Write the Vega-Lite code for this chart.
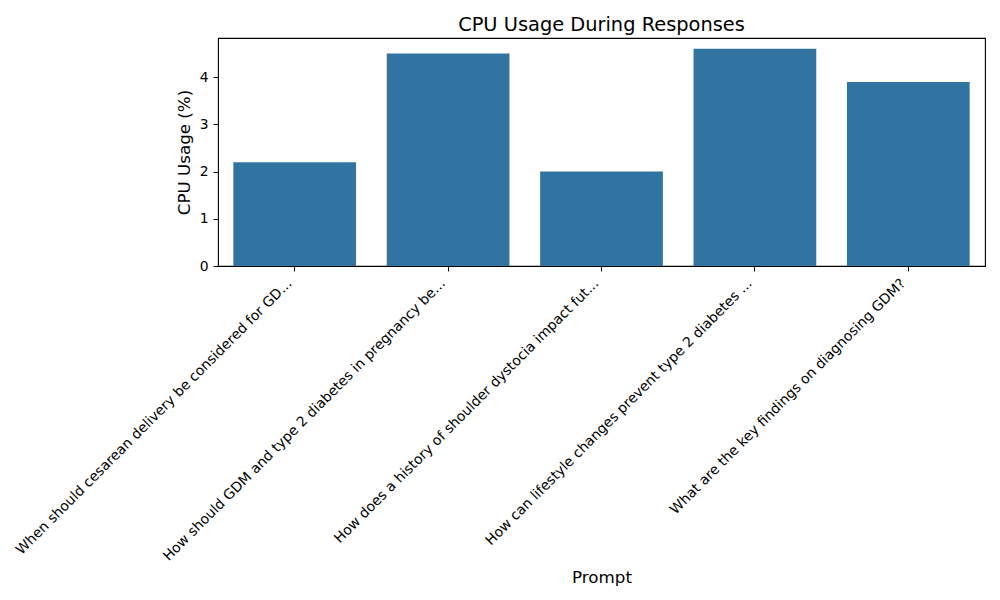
{
  "$schema": "https://vega.github.io/schema/vega-lite/v6.json",
  "autosize": {"type": "none"},
  "width": 767,
  "height": 228,
  "padding": {"left": 218, "top": 38, "right": 15, "bottom": 334},
  "background": "white",
  "title": {
    "text": "CPU Usage During Responses",
    "fontSize": 19.4,
    "font": "DejaVu Sans",
    "fontWeight": "normal",
    "color": "black",
    "anchor": "middle",
    "offset": 3
  },
  "data": {
    "values": [
      {"prompt": "When should cesarean delivery be considered for GD...", "cpu": 2.2},
      {"prompt": "How should GDM and type 2 diabetes in pregnancy be...", "cpu": 4.5},
      {"prompt": "How does a history of shoulder dystocia impact fut...", "cpu": 2.0},
      {"prompt": "How can lifestyle changes prevent type 2 diabetes ...", "cpu": 4.6},
      {"prompt": "What are the key findings on diagnosing GDM?", "cpu": 3.9}
    ]
  },
  "mark": {"type": "bar", "color": "#3274a1"},
  "encoding": {
    "x": {
      "field": "prompt",
      "type": "nominal",
      "sort": null,
      "scale": {"paddingInner": 0.2, "paddingOuter": 0.1},
      "axis": {
        "title": "Prompt",
        "titleFontSize": 16.7,
        "titleFont": "DejaVu Sans",
        "titleFontWeight": "normal",
        "titleColor": "black",
        "titleY": 316,
        "titleBaseline": "alphabetic",
        "labelAngle": -45,
        "labelAlign": "right",
        "labelBaseline": "middle",
        "labelOffset": -5,
        "labelPadding": 10,
        "labelFontSize": 13.9,
        "labelFont": "DejaVu Sans",
        "labelColor": "black",
        "labelLimit": 0,
        "labelOverlap": false,
        "tickSize": 4.9,
        "tickColor": "black",
        "tickWidth": 1,
        "domain": false,
        "grid": false
      }
    },
    "y": {
      "field": "cpu",
      "type": "quantitative",
      "scale": {"domain": [0, 4.83], "nice": false, "zero": true},
      "axis": {
        "title": "CPU Usage (%)",
        "titleFontSize": 16.7,
        "titleFont": "DejaVu Sans",
        "titleFontWeight": "normal",
        "titleColor": "black",
        "titlePadding": 6,
        "values": [0, 1, 2, 3, 4],
        "labelFontSize": 13.9,
        "labelFont": "DejaVu Sans",
        "labelColor": "black",
        "labelPadding": 4.9,
        "tickSize": 4.9,
        "tickColor": "black",
        "tickWidth": 1,
        "domain": false,
        "grid": false
      }
    }
  },
  "config": {
    "view": {"stroke": "black", "strokeWidth": 1.1}
  }
}
